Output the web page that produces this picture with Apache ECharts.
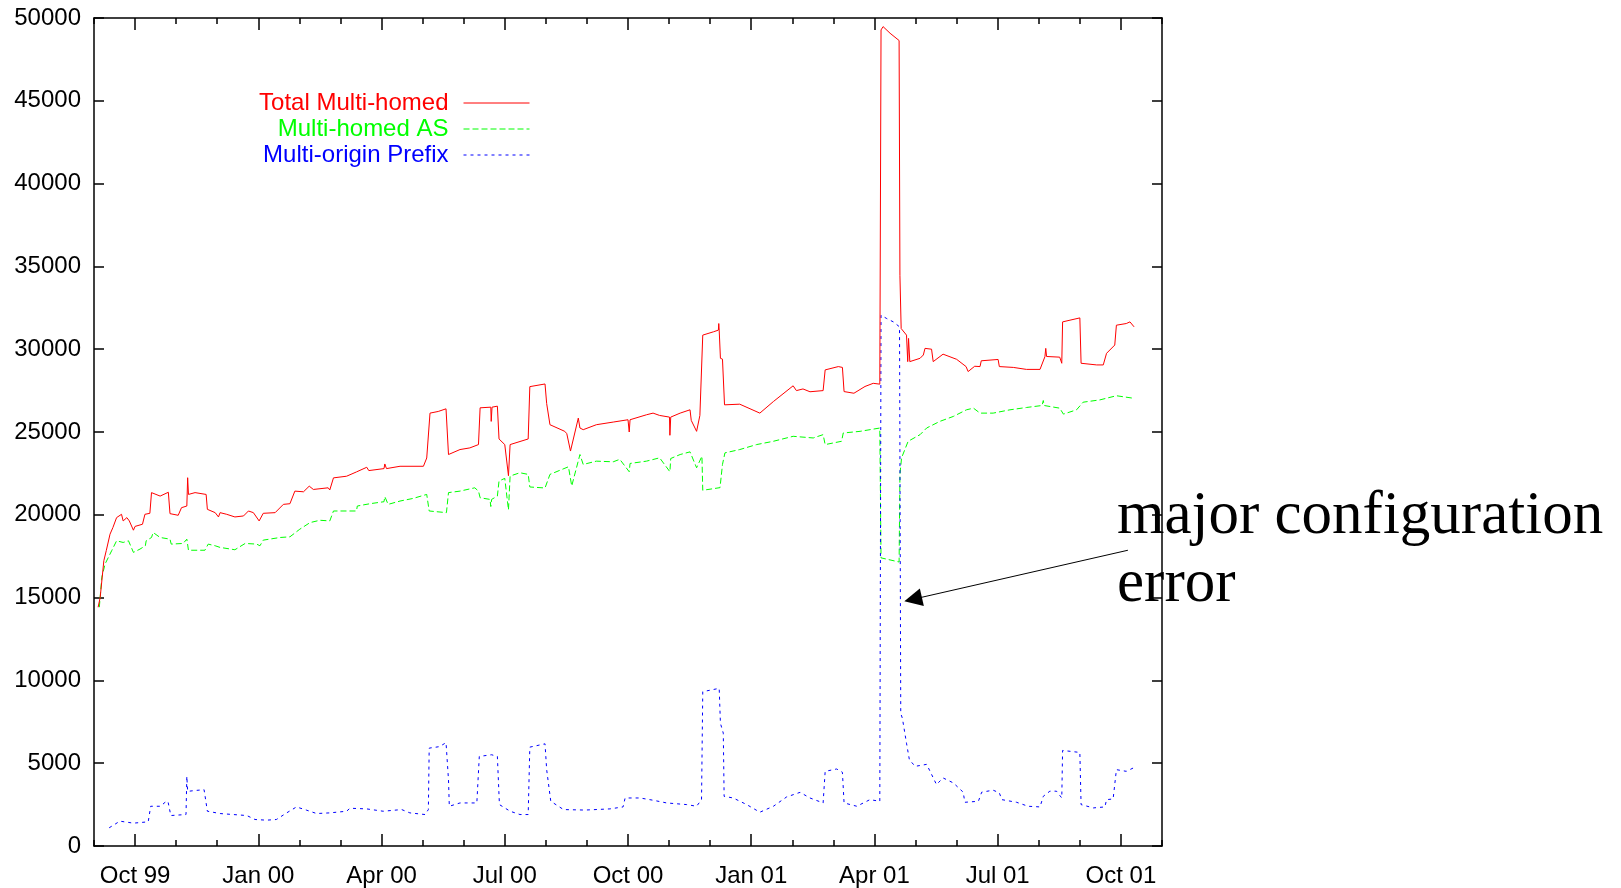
<!DOCTYPE html>
<html>
<head>
<meta charset="utf-8">
<script src="https://cdn.jsdelivr.net/npm/echarts@6/dist/echarts.min.js"></script>
<style>
html,body{margin:0;padding:0;background:#fff;}
#chart{width:1621px;height:888px;}
</style>
</head>
<body>
<div id="chart"></div>
<script>
// x values are months since 1 Sep 1999 (Oct 99 = 1, Jan 00 = 4, ... Nov 01 = 26)
const monthLabels = ['Sep 99','Oct 99','Nov 99','Dec 99','Jan 00','Feb 00','Mar 00','Apr 00','May 00','Jun 00','Jul 00','Aug 00','Sep 00','Oct 00','Nov 00','Dec 00','Jan 01','Feb 01','Mar 01','Apr 01','May 01','Jun 01','Jul 01','Aug 01','Sep 01','Oct 01','Nov 01'];
const seriesNames = ['Total Multi-homed','Multi-homed AS','Multi-origin Prefix'];
const yTicks = [0,5000,10000,15000,20000,25000,30000,35000,40000,45000,50000];

const totalMultihomed = [[0.10,14420],[0.15,15000],[0.24,17230],[0.30,17850],[0.39,18830],[0.46,19230],[0.55,19830],[0.67,20030],[0.71,19630],[0.80,19830],[0.86,19630],[0.96,19070],[1.00,19300],[1.18,19430],[1.24,20030],[1.36,20090],[1.40,21340],[1.61,21130],[1.81,21360],[1.85,20070],[2.05,19970],[2.13,20430],[2.26,20530],[2.28,22240],[2.30,21230],[2.46,21340],[2.73,21230],[2.76,20330],[2.95,20130],[3.03,19870],[3.07,20130],[3.23,20030],[3.43,19870],[3.64,19930],[3.76,20230],[3.88,20130],[4.02,19630],[4.12,20090],[4.41,20130],[4.61,20630],[4.77,20670],[4.89,21430],[5.10,21390],[5.24,21730],[5.34,21530],[5.70,21630],[5.74,21500],[5.83,22230],[6.15,22330],[6.39,22590],[6.64,22870],[6.69,22670],[7.06,22790],[7.08,23070],[7.12,22790],[7.45,22930],[8.02,22930],[8.10,23430],[8.18,26140],[8.38,26240],[8.57,26400],[8.61,26300],[8.63,23640],[8.91,23940],[9.15,24040],[9.36,24240],[9.40,26460],[9.66,26500],[9.67,25640],[9.69,26500],[9.82,26560],[9.86,24580],[10.00,24240],[10.09,22360],[10.13,24240],[10.57,24580],[10.61,27740],[10.98,27900],[11.02,26720],[11.10,25440],[11.46,25040],[11.51,24900],[11.60,23850],[11.79,25840],[11.83,25240],[11.91,25140],[12.23,25440],[12.64,25600],[13.00,25740],[13.03,25000],[13.05,25740],[13.45,26040],[13.61,26140],[13.77,26000],[14.01,25900],[14.02,24800],[14.04,25900],[14.27,26140],[14.51,26340],[14.54,25700],[14.67,25040],[14.75,26000],[14.82,30850],[15.08,31050],[15.20,31150],[15.21,31550],[15.22,31150],[15.25,29450],[15.30,29400],[15.35,26640],[15.72,26680],[16.21,26140],[16.54,26840],[17.02,27790],[17.10,27500],[17.26,27600],[17.43,27430],[17.75,27500],[17.80,28750],[18.12,28950],[18.22,28900],[18.26,27440],[18.50,27340],[18.77,27750],[18.97,27940],[19.13,27890],[19.16,49280],[19.21,49480],[19.38,49080],[19.60,48640],[19.62,34460],[19.65,31250],[19.78,30850],[19.81,29250],[19.83,30650],[19.86,29250],[20.11,29450],[20.19,29650],[20.23,30050],[20.39,30000],[20.43,29250],[20.67,29700],[21.00,29390],[21.23,28950],[21.28,28650],[21.44,28970],[21.57,28950],[21.60,29300],[22.01,29380],[22.04,28950],[22.38,28900],[22.70,28780],[23.03,28780],[23.15,29550],[23.17,30050],[23.19,29560],[23.51,29520],[23.56,29150],[23.58,31650],[24.00,31890],[24.03,29150],[24.41,29050],[24.57,29050],[24.65,29750],[24.85,30250],[24.89,31450],[25.13,31550],[25.22,31650],[25.32,31350]];

const multihomedAS = [[0.13,14420],[0.19,16230],[0.27,17030],[0.43,17830],[0.55,18430],[0.71,18330],[0.84,18430],[0.96,17730],[1.12,17930],[1.25,18130],[1.27,18430],[1.40,18630],[1.44,18930],[1.61,18630],[1.85,18530],[1.88,18230],[2.17,18270],[2.26,18530],[2.30,17860],[2.70,17860],[2.78,18230],[2.95,18130],[3.07,18030],[3.43,17890],[3.68,18270],[3.96,18230],[4.04,18130],[4.12,18470],[4.53,18630],[4.77,18670],[5.01,19130],[5.26,19530],[5.50,19670],[5.74,19630],[5.83,20230],[6.39,20230],[6.41,20530],[6.72,20670],[7.06,20790],[7.08,21100],[7.16,20630],[7.45,20830],[7.77,20990],[8.10,21230],[8.16,20230],[8.58,20130],[8.63,21340],[8.91,21430],[9.27,21630],[9.36,21430],[9.40,21030],[9.64,20930],[9.66,20500],[9.68,20930],[9.82,21130],[9.86,22040],[10.00,22200],[10.09,20300],[10.13,22340],[10.37,22540],[10.57,22440],[10.61,21680],[10.98,21620],[11.10,22440],[11.55,22900],[11.63,21740],[11.83,23640],[11.91,23040],[12.23,23240],[12.64,23200],[12.80,23350],[13.03,22600],[13.05,23100],[13.45,23240],[13.77,23440],[14.02,22600],[14.04,23400],[14.27,23640],[14.51,23800],[14.67,22840],[14.80,23540],[14.82,21480],[15.24,21640],[15.30,23040],[15.36,23740],[15.72,23940],[16.13,24240],[16.54,24440],[17.02,24740],[17.51,24640],[17.75,24840],[17.80,24240],[18.20,24440],[18.24,24940],[18.65,25040],[19.13,25240],[19.16,17400],[19.60,17150],[19.62,22440],[19.66,23440],[19.82,24440],[20.11,24840],[20.27,25240],[20.59,25640],[20.92,25940],[21.24,26340],[21.41,26440],[21.57,26140],[21.89,26140],[22.30,26340],[22.70,26480],[23.08,26600],[23.11,26900],[23.13,26600],[23.51,26440],[23.60,26080],[23.92,26340],[24.08,26800],[24.49,26940],[24.89,27190],[25.30,27040]];

const multiOriginPrefix = [[0.37,1100],[0.63,1500],[0.96,1380],[1.32,1460],[1.38,2400],[1.62,2400],[1.73,2640],[1.80,2700],[1.87,1840],[2.24,1900],[2.26,4210],[2.28,3300],[2.50,3360],[2.68,3400],[2.76,2100],[3.07,1960],[3.39,1900],[3.72,1840],[3.92,1600],[4.20,1560],[4.44,1600],[4.69,2000],[4.93,2360],[5.18,2160],[5.42,1960],[5.74,2000],[6.15,2100],[6.23,2280],[6.64,2240],[7.04,2100],[7.49,2200],[7.69,2000],[8.06,1900],[8.14,2200],[8.16,5910],[8.41,6000],[8.57,6240],[8.63,4000],[8.65,2400],[8.91,2600],[9.32,2600],[9.38,5410],[9.68,5510],[9.82,5410],[9.87,2500],[10.13,2100],[10.37,1900],[10.57,1900],[10.61,5970],[10.98,6170],[11.02,4610],[11.12,2700],[11.43,2200],[11.95,2170],[12.56,2240],[12.88,2360],[12.93,2900],[13.29,2900],[13.62,2760],[13.94,2600],[14.43,2500],[14.67,2400],[14.79,2800],[14.82,9320],[15.22,9520],[15.25,7410],[15.32,6810],[15.34,3000],[15.56,2900],[15.89,2500],[16.21,2040],[16.54,2400],[16.86,2960],[17.19,3240],[17.43,2900],[17.75,2600],[17.80,4510],[18.08,4650],[18.22,4450],[18.26,2600],[18.57,2400],[18.89,2800],[19.13,2700],[19.16,32050],[19.30,31850],[19.46,31650],[19.61,31350],[19.64,8000],[19.68,7710],[19.78,6210],[19.85,5210],[19.99,4810],[20.27,4930],[20.35,4530],[20.51,3710],[20.67,4110],[20.92,3810],[21.16,3250],[21.20,2640],[21.53,2700],[21.61,3250],[21.89,3370],[22.04,3210],[22.10,2800],[22.46,2640],[22.74,2400],[23.03,2360],[23.11,3000],[23.27,3310],[23.43,3310],[23.56,2900],[23.58,5770],[24.00,5650],[24.03,2500],[24.33,2300],[24.61,2360],[24.65,2800],[24.81,2840],[24.89,4610],[25.13,4510],[25.30,4710]];

// annotation arrow (data coordinates: month, value)
const arrowFrom = [25.17, 17860];
const arrowTo = [19.94, 14900];
const annotationLines = ['major configuration', 'error'];

const chart = echarts.init(document.getElementById('chart'), null, {renderer: 'canvas'});
const FONT = 'Liberation Sans, Arial, Helvetica, sans-serif';
const isQuarter = (i) => i % 3 === 1;

function minorAxis(pos) {
  return {
    type: 'value', min: 0, max: monthLabels.length - 1, interval: 1, position: pos,
    axisLine: {show: true, onZero: false, lineStyle: {color: '#000', width: 1.5}},
    axisTick: {show: true, inside: true, length: 6, lineStyle: {color: '#000', width: 1.5}},
    axisLabel: {show: false}, splitLine: {show: false}
  };
}
function majorAxis(pos, labels) {
  return {
    type: 'category', data: monthLabels, boundaryGap: false, position: pos,
    axisLine: {show: false, onZero: false},
    axisTick: {show: true, inside: true, length: 12, interval: (i) => isQuarter(i), lineStyle: {color: '#000', width: 1.5}},
    axisLabel: {show: labels, interval: (i) => isQuarter(i), color: '#000', fontFamily: FONT, fontSize: 24, margin: 18},
    splitLine: {show: false}
  };
}
function yAx(pos, labels) {
  return {
    type: 'value', min: yTicks[0], max: yTicks[yTicks.length - 1], interval: yTicks[1] - yTicks[0], position: pos,
    axisLine: {show: true, onZero: false, lineStyle: {color: '#000', width: 1.5}},
    axisTick: {show: true, inside: true, length: 10, lineStyle: {color: '#000', width: 1.5}},
    axisLabel: {show: labels, color: '#000', fontFamily: FONT, fontSize: 24, margin: 13, formatter: (v) => String(v)},
    splitLine: {show: false}
  };
}

const colors = ['#ff0000', '#00ff00', '#0000ff'];
const dashTypes = ['solid', [6, 3], [3, 4]];
const legendTops = [91, 117, 143];

chart.setOption({
  animation: false,
  backgroundColor: '#fff',
  grid: {left: 94, right: 459, top: 18, bottom: 38, containLabel: false},
  xAxis: [minorAxis('bottom'), majorAxis('bottom', true), minorAxis('top'), majorAxis('top', false)],
  yAxis: [yAx('left', true), yAx('right', false)],
  legend: seriesNames.map((n, i) => ({
    data: [n], right: 1091, top: legendTops[i], padding: 0, align: 'right',
    itemWidth: 66, itemHeight: 14, selectedMode: false,
    itemStyle: {color: 'rgba(0,0,0,0)', borderWidth: 0, opacity: 0},
    textStyle: {color: colors[i], fontFamily: FONT, fontSize: 24, lineHeight: 24, padding: [0, 10, 0, 0]},
    lineStyle: {color: colors[i], width: 1, type: dashTypes[i]}
  })),
  graphic: [
    {type: 'text', left: 1117, top: 483, silent: true,
     style: {text: annotationLines.join('\n'), fill: '#000', font: '61px "Liberation Serif", "Times New Roman", serif', lineHeight: 68}}
  ],
  series: [
    {name: seriesNames[0], type: 'line', data: totalMultihomed, xAxisIndex: 0, yAxisIndex: 0, symbol: 'none', showSymbol: false, z: 3,
     lineStyle: {color: colors[0], width: 1, type: dashTypes[0]}, itemStyle: {color: colors[0]}},
    {name: seriesNames[1], type: 'line', data: multihomedAS, xAxisIndex: 0, yAxisIndex: 0, symbol: 'none', showSymbol: false, z: 2,
     lineStyle: {color: colors[1], width: 1, type: dashTypes[1]}, itemStyle: {color: colors[1]}},
    {name: seriesNames[2], type: 'line', data: multiOriginPrefix, xAxisIndex: 0, yAxisIndex: 0, symbol: 'none', showSymbol: false, z: 2,
     lineStyle: {color: colors[2], width: 1, type: dashTypes[2]}, itemStyle: {color: colors[2]},
     markLine: {silent: true, symbol: ['none', 'triangle'], symbolSize: 18, label: {show: false},
       itemStyle: {color: '#000'},
       lineStyle: {color: '#000', width: 1, type: 'solid'}, emphasis: {disabled: true},
       data: [[{coord: arrowFrom}, {coord: arrowTo}]]}}
  ]
});
</script>
</body>
</html>
